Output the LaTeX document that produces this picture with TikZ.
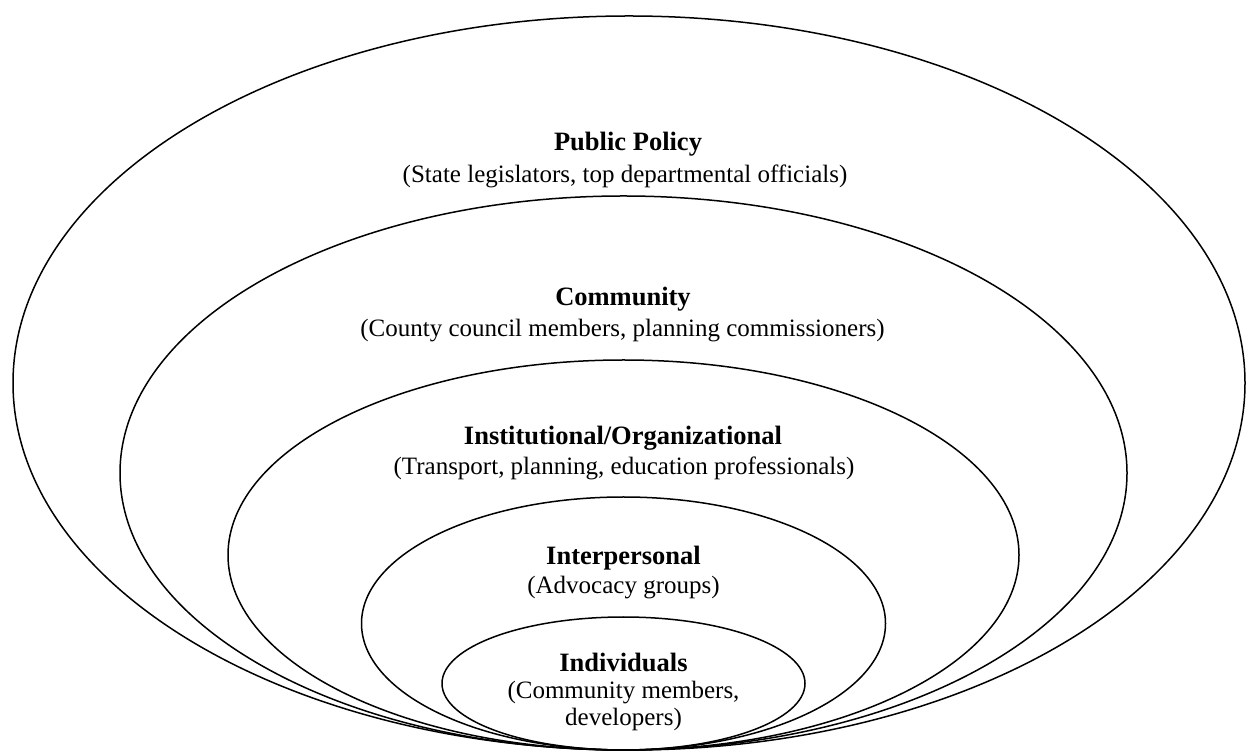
\documentclass[tikz,border=0pt]{standalone}
\usepackage{fontspec}
\setmainfont{Liberation Serif}
\usepackage{tikz}
\usetikzlibrary{positioning}
\tikzset{
  ring/.style={line width=1.5pt},
  head/.style={font=\fontsize{26.5}{30}\selectfont\bfseries, inner sep=0pt},
  sub/.style={font=\fontsize{25}{27}\selectfont, inner sep=0pt, align=center}
}

\begin{document}
\begin{tikzpicture}[x=1pt,y=1pt]

% Page frame
\useasboundingbox (0,0) rectangle (1247,755);

% Rings, all touching at the bottom
\draw[ring] (629,372) ellipse [x radius=616, y radius=367];
\draw[ring] (623.5,282) ellipse [x radius=503.5, y radius=277];
\draw[ring] (623.5,200) ellipse [x radius=395.5, y radius=195];
\draw[ring] (623.5,131.5) ellipse [x radius=262, y radius=126.5];
\draw[ring] (623.5,71.5) ellipse [x radius=181.5, y radius=66.5];

% Public policy
\node[head] (policy) at (628,611) {Public Policy};
\node[sub] (policysub) at (625,579) {(State legislators, top departmental officials)};

% Community
\node[head] (community) at (623,456) {Community};
\node[sub] (communitysub) at (622.5,424) {(County council members, planning commissioners)};

% Institutional
\node[head] (institution) at (623,317) {Institutional/Organizational};
\node[sub] (institutionsub) at (624,287) {(Transport, planning, education professionals)};

% Interpersonal
\node[head] (interpersonal) at (623.5,197) {Interpersonal};
\node[sub] (interpersonalsub) at (623.5,167) {(Advocacy groups)};

% Individuals
\node[head] (individuals) at (623.5,93) {Individuals};
\node[sub] (individualssub) at (623.5,49) {(Community members,\\developers)};

\end{tikzpicture}
\end{document}
